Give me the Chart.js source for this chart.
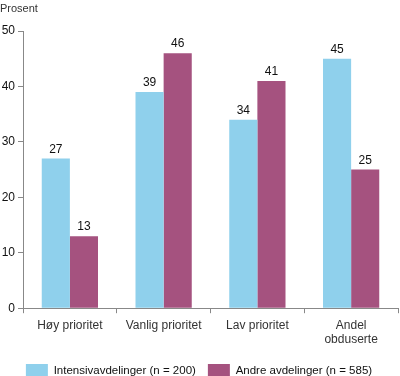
<!DOCTYPE html>
<html>
<head>
<meta charset="utf-8">
<script src="https://cdn.jsdelivr.net/npm/chart.js@4"></script>
<style>
  html, body { margin: 0; padding: 0; background: #fff; }
  #wrap { width: 400px; height: 376px; position: relative; }
</style>
</head>
<body>
<div id="wrap"><canvas id="myChart"></canvas></div>
<script>
const categories = ['Høy prioritet', 'Vanlig prioritet', 'Lav prioritet', ['Andel', 'obduserte']];
const intensiv = [27, 39, 34, 45];
const andre = [13, 46, 41, 25];
const yTicks = [0, 10, 20, 30, 40, 50];

const FONT = 'Liberation Sans, Arial, Helvetica, sans-serif';

// values above each bar + "Prosent" title
const valueLabels = {
    id: 'valueLabels',
    afterDatasetsDraw(chart) {
        const c = chart.ctx;
        c.save();
        c.font = '12px ' + FONT;
        c.fillStyle = '#111';
        c.textAlign = 'center';
        c.textBaseline = 'bottom';
        chart.data.datasets.forEach((ds, i) => {
            chart.getDatasetMeta(i).data.forEach((bar, j) => {
                c.fillText(ds.data[j], bar.x, bar.y - 3);
            });
        });
        c.textAlign = 'left';
        c.textBaseline = 'top';
        c.fillStyle = '#333';
        c.font = '11px ' + FONT;
        c.fillText('Prosent', 0, 3);
        c.restore();
    }
};

const ctx = document.getElementById('myChart').getContext('2d');

const myChart = new Chart(ctx, {
    type: 'bar',
    data: {
        labels: categories,
        datasets: [
            {
                label: 'Intensivavdelinger (n = 200)',
                data: intensiv,
                // light blue
                backgroundColor: '#8fd0ec',
            },
            {
                label: 'Andre avdelinger (n = 585)',
                data: andre,
                // purple
                backgroundColor: '#a5527f',
            }
        ]
    },
    options: {
        responsive: true,
        maintainAspectRatio: false,
        animation: false,
        layout: { padding: { top: 31, right: 2, left: 0, bottom: -11 } },
        datasets: {
            bar: { categoryPercentage: 0.6, barPercentage: 1.0 }
        },
        plugins: {
            legend: {
                position: 'bottom',
                labels: {
                    boxWidth: 22,
                    boxHeight: 13,
                    padding: 12,
                    color: '#111',
                    font: { family: FONT, size: 11.5 }
                }
            },
            tooltip: { enabled: false }
        },
        scales: {
            x: {
                grid: {
                    display: true,
                    drawOnChartArea: false,
                    tickLength: 5,
                    color: '#888'
                },
                border: { color: '#888' },
                ticks: {
                    color: '#333',
                    font: { family: FONT, size: 12 },
                    padding: 5,
                    maxRotation: 0
                }
            },
            y: {
                min: 0,
                max: 50,
                afterBuildTicks: s => { s.ticks = yTicks.map(v => ({ value: v })); },
                afterFit: s => { s.width = 23; },
                grid: {
                    display: true,
                    drawOnChartArea: false,
                    tickLength: 5,
                    color: '#888'
                },
                border: { color: '#888' },
                ticks: {
                    color: '#111',
                    font: { family: FONT, size: 12 },
                    padding: 3
                }
            }
        }
    },
    plugins: [valueLabels]
});
</script>
</body>
</html>
